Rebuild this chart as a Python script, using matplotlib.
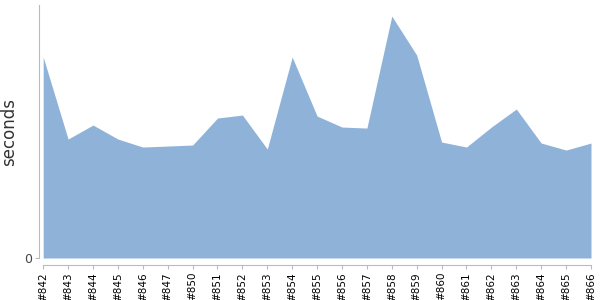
import matplotlib.pyplot as plt

# build numbers shown on the x axis
builds = ['#842', '#843', '#844', '#845', '#846', '#847', '#850', '#851',
          '#852', '#853', '#854', '#855', '#856', '#857', '#858', '#859',
          '#860', '#861', '#862', '#863', '#864', '#865', '#866']
# duration per build (seconds)
seconds = [201, 119, 133, 119, 111, 112, 113, 140,
           143, 109, 201, 142, 131, 130, 242, 203,
           116, 111, 131, 149, 115, 108, 115]

fig = plt.figure(figsize=(6, 3), dpi=100)
ax = fig.add_axes([0.072, 0.14, 0.913, 0.843])

# axis styling first (moving spines resets the ticks)
for side in ['top', 'right']:
    ax.spines[side].set_visible(False)
ax.spines['left'].set_color('#bbbbbb')
ax.spines['bottom'].set_color('#bbbbbb')
ax.spines['bottom'].set_position(('outward', 5))
ax.spines['left'].set_position(('outward', 3))

x = list(range(len(builds)))
ax.fill_between(x, seconds, 0, color='#8fb2d9', linewidth=0)

ax.set_xlim(0, len(builds) - 1)
ax.set_ylim(0, 253)
ax.set_xticks(x)
ax.set_xticklabels(builds)
ax.set_yticks([0])
ax.set_yticklabels(['0'])
ax.set_ylabel('seconds', fontsize=12, color='#333333')
ax.yaxis.set_label_coords(-0.045, 0.5)

ax.tick_params(axis='x', labelrotation=90, labelsize=7.5, labelcolor='black',
               color='#bbbbbb', length=3, pad=2)
ax.tick_params(axis='y', labelsize=9, labelcolor='#444444',
               color='#bbbbbb', length=3, pad=2)

plt.savefig('out.png', dpi=100)
